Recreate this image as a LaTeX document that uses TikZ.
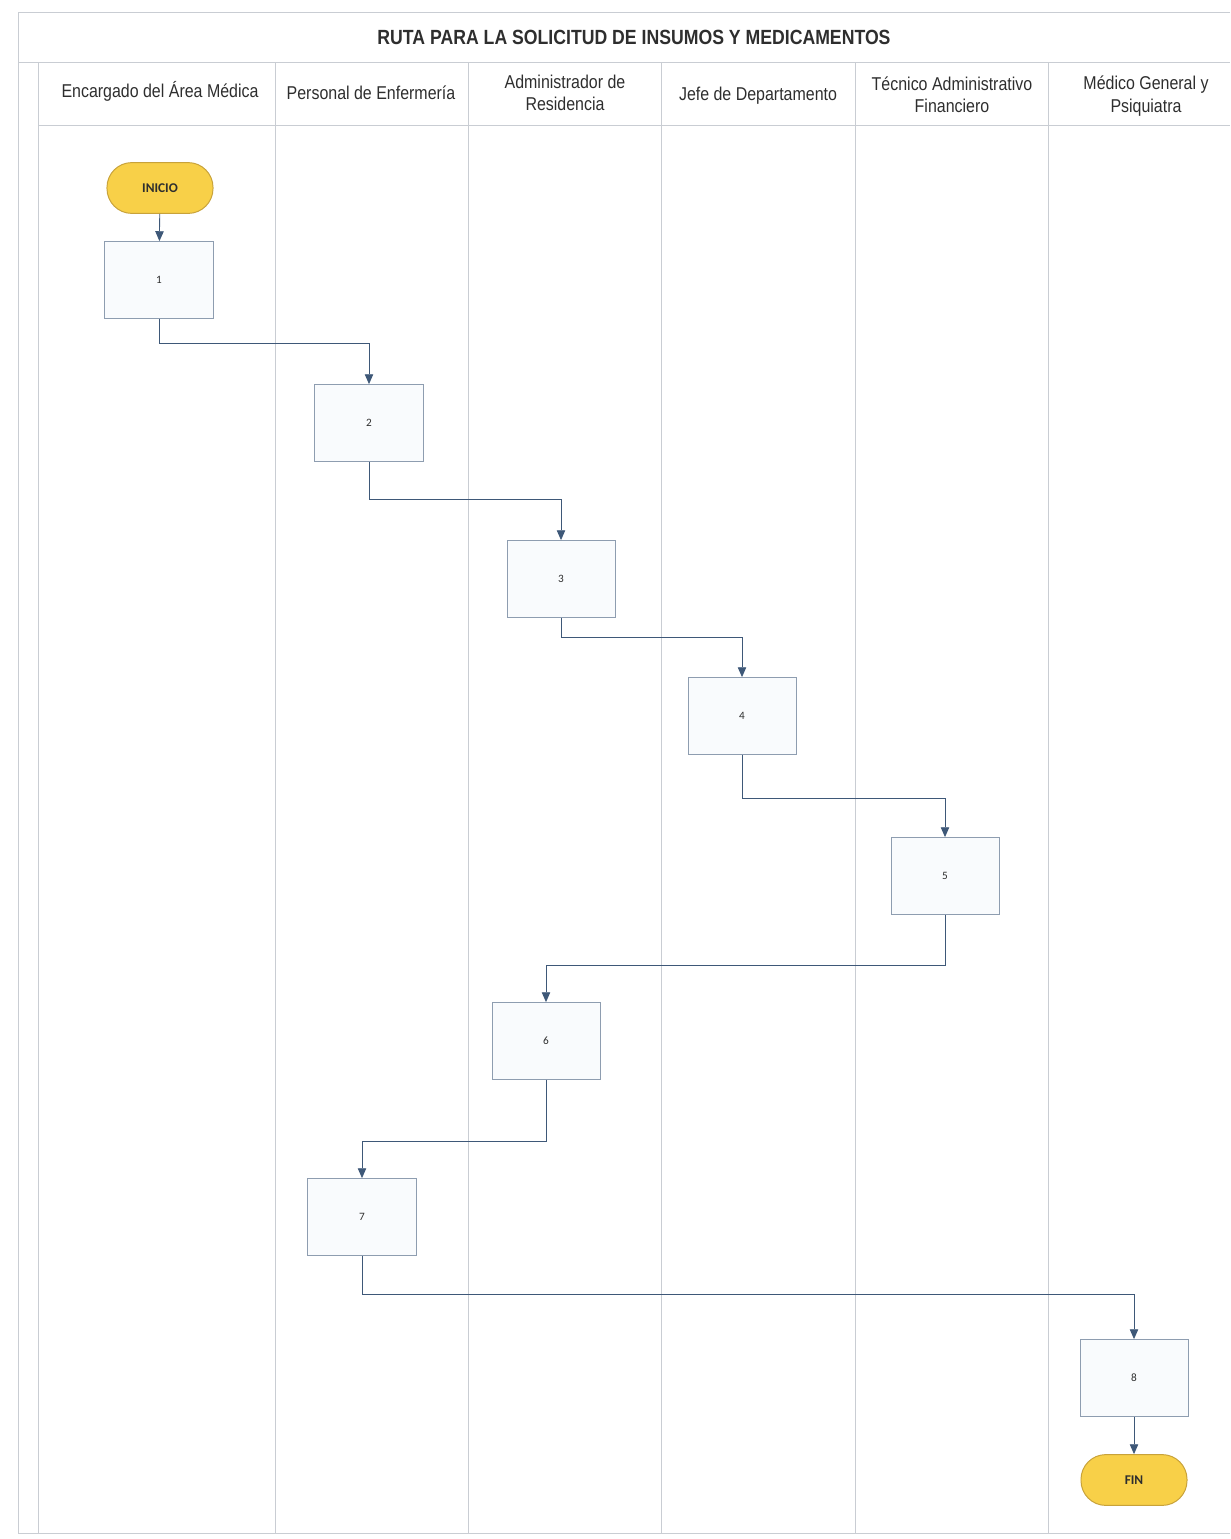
\documentclass[tikz,border=0pt]{standalone}
\usepackage{fontspec}
\setmainfont{Liberation Sans}
\newfontfamily\narrowfont[FakeStretch=0.86]{Liberation Sans}
\newfontfamily\boxfont{Carlito}
\usetikzlibrary{arrows.meta,positioning}
\definecolor{laneline}{HTML}{C9CDD3}
\definecolor{flowink}{HTML}{3E5878}
\definecolor{boxedge}{HTML}{8E9DB0}
\definecolor{boxfill}{HTML}{F9FBFD}
\definecolor{termfill}{HTML}{F8D048}
\definecolor{termedge}{HTML}{C8A23A}
\definecolor{headink}{HTML}{2E2E2E}

\begin{document}
\begin{tikzpicture}[x=0.025cm,y=-0.025cm,
    stepbox/.style={draw=boxedge,fill=boxfill,line width=.7pt,
      minimum width=2.7cm,minimum height=1.92cm,inner sep=0pt,
      font=\boxfont\fontsize{8}{9}\selectfont,text=headink},
    terminal/.style={draw=termedge,fill=termfill,line width=.7pt,
      rounded corners=.62cm,minimum width=2.65cm,minimum height=1.27cm,
      inner sep=0pt,font=\boxfont\bfseries\fontsize{9.5}{11}\selectfont,text=headink},
    lanehead/.style={align=center,font=\narrowfont\fontsize{13.2}{16}\selectfont,text=headink},
    flow/.style={draw=flowink,line width=.6pt,
      -{Triangle[width=6pt,length=7pt]}}]
    \path[use as bounding box] (0,0) rectangle (1230,1539);

    % Frame, title bar and header row of the swimlanes.
    \draw[laneline,line width=.6pt] (1230,12) -- (18,12) -- (18,1533) -- (1230,1533);
    \draw[laneline,line width=.6pt] (18,62) -- (1230,62);
    \draw[laneline,line width=.6pt] (38,125) -- (1230,125);
    \foreach \x in {38,275,468,661,855,1048}
      \draw[laneline,line width=.6pt] (\x,62) -- (\x,1533);

    \node[font=\narrowfont\bfseries\fontsize{14.6}{17}\selectfont,text=headink] (title) at (634,37)
      {RUTA PARA LA SOLICITUD DE INSUMOS Y MEDICAMENTOS};

    \node[lanehead] (h1) at (160,91) {Encargado del Área Médica};
    \node[lanehead] (h2) at (371,93) {Personal de Enfermería};
    \node[lanehead] (h3) at (565,93) {Administrador de\\Residencia};
    \node[lanehead] (h4) at (758,96) {Jefe de Departamento};
    \node[lanehead] (h5) at (952,95) {Técnico Administrativo\\Financiero};
    \node[lanehead] (h6) at (1146,96) {Médico General y\\Psiquiatra};

    % Steps of the route, one box per step.
    \node[terminal] (inicio) at (160,188) {INICIO};
    \node[stepbox] (s1) at (159,280) {1};
    \node[stepbox] (s2) at (369,423) {2};
    \node[stepbox] (s3) at (561,579) {3};
    \node[stepbox] (s4) at (742,716) {4};
    \node[stepbox] (s5) at (945,876) {5};
    \node[stepbox] (s6) at (546,1041) {6};
    \node[stepbox] (s7) at (362,1217) {7};
    \node[stepbox] (s8) at (1134,1378) {8};
    \node[terminal] (fin) at (1134,1480) {FIN};

    % Connectors between the lanes.
    \draw[flow] (inicio) -- (s1);
    \draw[flow] (s1.south) -- ++(0,25) -| (s2.north);
    \draw[flow] (s2.south) -- ++(0,38) -| (s3.north);
    \draw[flow] (s3.south) -- ++(0,20) -| (s4.north);
    \draw[flow] (s4.south) -- ++(0,44) -| (s5.north);
    \draw[flow] (s5.south) -- ++(0,51) -| (s6.north);
    \draw[flow] (s6.south) -- ++(0,62) -| (s7.north);
    \draw[flow] (s7.south) -- ++(0,39) -| (s8.north);
    \draw[flow] (s8) -- (fin);
\end{tikzpicture}
\end{document}
